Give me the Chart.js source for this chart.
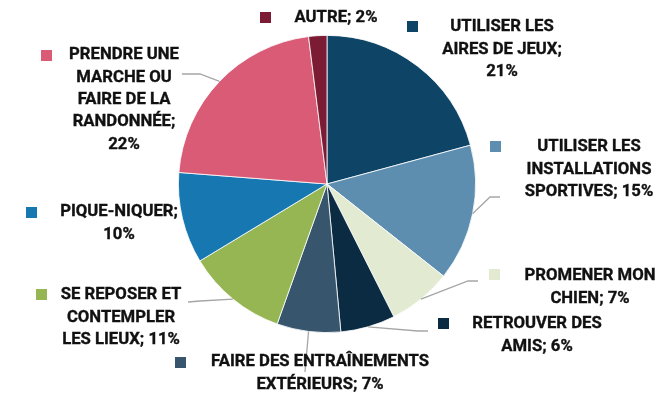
<!DOCTYPE html>
<html>
<head>
<meta charset="utf-8">
<script src="https://cdn.jsdelivr.net/npm/chart.js@4/dist/chart.umd.min.js"></script>
<style>
  html, body { margin: 0; padding: 0; background: #fff; }
  #wrap { width: 658px; height: 395px; }
</style>
</head>
<body>
<div id="wrap"><canvas id="activitesChart" width="658" height="395"></canvas></div>
<script>
const categories = [
    'UTILISER LES AIRES DE JEUX',
    'UTILISER LES INSTALLATIONS SPORTIVES',
    'PROMENER MON CHIEN',
    'RETROUVER DES AMIS',
    'FAIRE DES ENTRAÎNEMENTS EXTÉRIEURS',
    'SE REPOSER ET CONTEMPLER LES LIEUX',
    'PIQUE-NIQUER',
    'PRENDRE UNE MARCHE OU FAIRE DE LA RANDONNÉE',
    'AUTRE'
];
const percents = [21, 15, 7, 6, 7, 11, 10, 22, 2];
const sliceColors = [
    '#0E4567', '#5D8EB0', '#E2EBD2', '#0B2B42', '#37566D',
    '#95B652', '#1777B1', '#D95B75', '#7B1C34'
];

// where each label sits: text centre x, first line centre y, wrap width,
// legend key position, and the bends of the leader line (if any)
const labelLayout = [
    { x: 502, y: 27,  wrap: 132, key: [407, 21],  leader: null },
    { x: 589, y: 147, wrap: 136, key: [490, 141], leader: [[490, 197], [500, 197]] },
    { x: 590, y: 276, wrap: 140, key: [489, 269], leader: [[468, 281], [478, 281]] },
    { x: 537, y: 324, wrap: 140, key: [438, 318], leader: [[418, 331], [428, 331]] },
    { x: 320, y: 362, wrap: 232, key: [175, 357], leader: [[305, 372]] },
    { x: 121, y: 295, wrap: 130, key: [36, 289],  leader: [[200, 301], [188, 302]] },
    { x: 119, y: 212, wrap: 130, key: [26, 207],  leader: null },
    { x: 124, y: 55,  wrap: 120, key: [41, 50],   leader: [[200, 74], [182, 74]] },
    { x: 336, y: 18,  wrap: 200, key: [260, 12],  leader: null }
];

const LINE_H = 22.4;
const FONT = 'bold 16.7px Roboto';

function wrapText(ctx, text, maxWidth) {
    const words = text.split(' ');
    const lines = [];
    let cur = '';
    for (const w of words) {
        const test = cur ? cur + ' ' + w : w;
        if (cur && ctx.measureText(test).width > maxWidth) {
            lines.push(cur);
            cur = w;
        } else {
            cur = test;
        }
    }
    if (cur) lines.push(cur);
    return lines;
}

const outsideLabels = {
    id: 'outsideLabels',
    afterDatasetsDraw(chart) {
        const ctx = chart.ctx;
        const meta = chart.getDatasetMeta(0);
        ctx.save();

        // leader lines from the middle of each arc's rim
        ctx.strokeStyle = '#A6A6A6';
        ctx.lineWidth = 1.3;
        meta.data.forEach((arc, i) => {
            const lay = labelLayout[i];
            if (!lay.leader) return;
            const p = arc.getProps(['x', 'y', 'startAngle', 'endAngle', 'outerRadius'], true);
            const mid = (p.startAngle + p.endAngle) / 2;
            ctx.beginPath();
            ctx.moveTo(p.x + Math.cos(mid) * p.outerRadius, p.y + Math.sin(mid) * p.outerRadius);
            lay.leader.forEach(pt => ctx.lineTo(pt[0], pt[1]));
            ctx.stroke();
        });

        // legend keys and text (thin stroke makes the bold a bit heavier)
        ctx.font = FONT;
        ctx.textAlign = 'center';
        ctx.textBaseline = 'middle';
        ctx.lineWidth = 0.35;
        ctx.strokeStyle = '#111111';
        categories.forEach((name, i) => {
            const lay = labelLayout[i];
            ctx.fillStyle = sliceColors[i];
            ctx.fillRect(lay.key[0], lay.key[1], 11, 11);
            ctx.fillStyle = '#111111';
            const lines = wrapText(ctx, name + '; ' + percents[i] + '%', lay.wrap);
            lines.forEach((ln, k) => {
                ctx.fillText(ln, lay.x, lay.y + k * LINE_H);
                ctx.strokeText(ln, lay.x, lay.y + k * LINE_H);
            });
        });
        ctx.restore();
    }
};

const ctx = document.getElementById('activitesChart').getContext('2d');
new Chart(ctx, {
    type: 'pie',
    data: {
        labels: categories,
        datasets: [{
            data: percents,
            backgroundColor: sliceColors,
            borderColor: '#ffffff',
            borderWidth: 0.8
        }]
    },
    options: {
        responsive: false,
        animation: false,
        layout: { padding: { left: 178, right: 182, top: 35, bottom: 62 } },
        plugins: {
            legend: { display: false },
            tooltip: { enabled: false }
        }
    },
    plugins: [outsideLabels]
});
</script>
</body>
</html>
